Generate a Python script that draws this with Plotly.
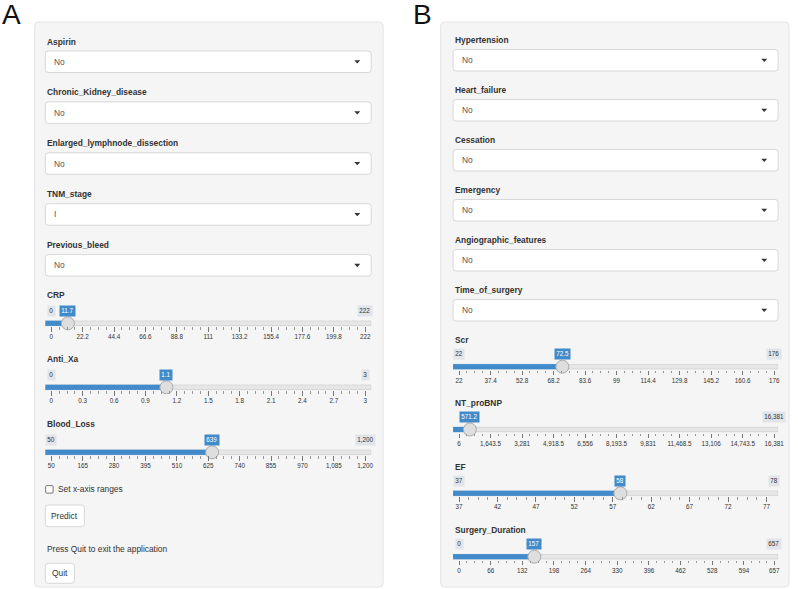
import plotly.graph_objects as go

W, H = 798, 589

# ---- values shown in the two input panels ----
left_select_names = ["Aspirin", "Chronic_Kidney_disease", "Enlarged_lymphnode_dissection",
                     "TNM_stage", "Previous_bleed"]
left_select_values = ["No", "No", "No", "I", "No"]

right_select_names = ["Hypertension", "Heart_failure", "Cessation", "Emergency",
                      "Angiographic_features", "Time_of_surgery"]
right_select_values = ["No", "No", "No", "No", "No", "No"]

left_slider_names = ["CRP", "Anti_Xa", "Blood_Loss"]
left_slider_min = [0, 0, 50]
left_slider_max = [222, 3, 1200]
left_slider_value = [11.7, 1.1, 639]
left_slider_ticks = [
    [0, 22.2, 44.4, 66.6, 88.8, 111, 133.2, 155.4, 177.6, 199.8, 222],
    [0, 0.3, 0.6, 0.9, 1.2, 1.5, 1.8, 2.1, 2.4, 2.7, 3],
    [50, 165, 280, 395, 510, 625, 740, 855, 970, 1085, 1200],
]

right_slider_names = ["Scr", "NT_proBNP", "EF", "Surgery_Duration"]
right_slider_min = [22, 6, 37, 0]
right_slider_max = [176, 16381, 78, 657]
right_slider_value = [72.5, 571.2, 58, 157]
right_slider_ticks = [
    [22, 37.4, 52.8, 68.2, 83.6, 99, 114.4, 129.8, 145.2, 160.6, 176],
    [6, 1643.5, 3281, 4918.5, 6556, 8193.5, 9831, 11468.5, 13106, 14743.5, 16381],
    [37, 42, 47, 52, 57, 62, 67, 72, 77],
    [0, 66, 132, 198, 264, 330, 396, 462, 528, 594, 657],
]

FONT = "Liberation Sans, Arial, sans-serif"
BLUE = "#428bca"
TXT = 8.4


def px(x):
    return x / W


def py(y):
    return 1 - y / H


def fmt(v):
    if float(v).is_integer():
        return f"{int(v):,}"
    return f"{v:,}"


def rrect(x0, y0, x1, y1, r, fill, line, lw=1):
    X0, X1, Y0, Y1 = px(x0), px(x1), py(y0), py(y1)
    rx, ry = r / W, r / H
    path = (f"M{X0 + rx},{Y0} L{X1 - rx},{Y0} Q{X1},{Y0} {X1},{Y0 - ry} "
            f"L{X1},{Y1 + ry} Q{X1},{Y1} {X1 - rx},{Y1} L{X0 + rx},{Y1} "
            f"Q{X0},{Y1} {X0},{Y1 + ry} L{X0},{Y0 - ry} Q{X0},{Y0} {X0 + rx},{Y0} Z")
    return dict(type="path", path=path, xref="paper", yref="paper", layer="below",
                fillcolor=fill, line=dict(color=line, width=lw))


def text(x, y, s, size=TXT, color="#333", bold=False, anchor="left"):
    if bold:
        s = f"<b>{s}</b>"
    return dict(x=px(x), y=py(y), xref="paper", yref="paper", text=s, showarrow=False,
                xanchor=anchor, yanchor="middle", font=dict(family=FONT, size=size, color=color))


shapes = []
annotations = []
traces = []
layout_axes = {}

# panels and the A / B tags
panels = [(35, 386, "A", 12), (444, 795, "B", 426)]
for x0, x1, tag, tx in panels:
    shapes.append(rrect(x0, 22, x1, 587, 4, "#f5f5f5", "#e3e3e3"))
    annotations.append(text(tx, 14, tag, size=28, color="#111", anchor="center"))


def add_selects(names, values, cx0, cx1, y_start, step):
    for i, (name, val) in enumerate(zip(names, values)):
        ly = y_start + i * step
        annotations.append(text(cx0, ly, name, bold=True))
        top, bot = ly + 9.5, ly + 31
        shapes.append(rrect(cx0, top, cx1, bot, 3, "white", "#cfcfcf", 0.8))
        mid = (top + bot) / 2
        annotations.append(text(cx0 + 7, mid, val, color="#555"))
        ax, ay = cx1 - 14, mid
        shapes.append(dict(type="path", xref="paper", yref="paper", layer="below",
                           path=f"M{px(ax - 3)},{py(ay - 1.5)} L{px(ax + 3)},{py(ay - 1.5)} "
                                f"L{px(ax)},{py(ay + 1.8)} Z",
                           fillcolor="#333", line=dict(width=0)))


add_selects(left_select_names, left_select_values, 45.7, 374, 41.5, 50.9)
add_selects(right_select_names, right_select_values, 456.5, 784, 40, 50)

axis_no = [0]


def add_sliders(names, mins, maxs, vals, ticks, tracks, label_off, d0, d1, g0, g1):
    for name, lo, hi, val, tv, ty in zip(names, mins, maxs, vals, ticks, tracks):
        axis_no[0] += 1
        k = axis_no[0]
        sfx = "" if k == 1 else str(k)
        xa, ya = "x" + sfx, "y" + sfx
        s = (hi - lo) / (g1 - g0)
        r_lo = lo - (g0 - d0) * s
        r_hi = hi + (d1 - g1) * s

        minor = []
        for a, b in zip(tv[:-1], tv[1:]):
            minor += [a + (b - a) * j / 4 for j in (1, 2, 3)]

        layout_axes["xaxis" + sfx] = dict(
            domain=[px(d0), px(d1)], range=[r_lo, r_hi], anchor=ya,
            tickmode="array", tickvals=tv, ticktext=[fmt(v) for v in tv],
            ticks="outside", ticklen=4.5, tickwidth=0.8, tickcolor="#777",
            tickfont=dict(family=FONT, size=6.3, color="#333"),
            showgrid=False, zeroline=False, showline=False, fixedrange=True,
            minor=dict(tickvals=minor, ticks="outside", ticklen=2.3, tickwidth=0.6,
                       tickcolor="#999", showgrid=False))
        layout_axes["yaxis" + sfx] = dict(
            domain=[py(ty + 3), py(ty - 3)], range=[0, 1], anchor=xa,
            visible=False, fixedrange=True)

        annotations.append(text(d0, ty - label_off, name, bold=True))

        # track and filled bar
        shapes.append(dict(type="rect", xref=xa, yref=ya, x0=r_lo, x1=r_hi, y0=0.1, y1=0.9,
                           layer="below", fillcolor="#e6e6e6", line=dict(color="#cccccc", width=0.7)))
        shapes.append(dict(type="rect", xref=xa, yref=ya, x0=r_lo, x1=val, y0=0.1, y1=0.9,
                           layer="below", fillcolor=BLUE, line=dict(color=BLUE, width=0.7)))

        traces.append(go.Scatter(x=[val], y=[0.5], xaxis=xa, yaxis=ya, mode="markers",
                                 cliponaxis=False, hoverinfo="skip", showlegend=False,
                                 marker=dict(size=13, color="#dedede",
                                             line=dict(color="#ababab", width=1))))

        # min / max / current value labels
        bubble = fmt(val)
        dist = (val - lo) / s
        show_min = dist > (len(bubble) * 3.5 / 2 + 3) + (len(fmt(lo)) * 3.5 / 2 + 2) + 2
        common = dict(xref=xa, yref=ya, y=0.5, yshift=12.8, showarrow=False,
                      xanchor="center", yanchor="middle", borderpad=1.3)
        if show_min:
            annotations.append(dict(common, x=lo, text=fmt(lo), bgcolor="#e1e4e9",
                                    font=dict(family=FONT, size=6.3, color="#333")))
        annotations.append(dict(common, x=hi, text=fmt(hi), bgcolor="#e1e4e9",
                                font=dict(family=FONT, size=6.3, color="#333")))
        annotations.append(dict(common, x=val, text=bubble, bgcolor=BLUE,
                                font=dict(family=FONT, size=6.3, color="white")))


add_sliders(left_slider_names, left_slider_min, left_slider_max, left_slider_value,
            left_slider_ticks, [323.3, 387.3, 452.3], 28, 45.7, 374, 51.7, 368)
add_sliders(right_slider_names, right_slider_min, right_slider_max, right_slider_value,
            right_slider_ticks, [366.7, 429.5, 493.3, 556.7], 26.5, 456.5, 784, 462.5, 780)

# checkbox, buttons and note in panel A
shapes.append(rrect(46, 485.6, 53.5, 493.1, 1, "white", "#555", 0.8))
annotations.append(text(56.7, 489.3, "Set x-axis ranges"))
shapes.append(rrect(45.7, 505, 85, 526.7, 3, "white", "#cfcfcf", 0.8))
annotations.append(text(65.3, 515.8, "Predict", anchor="center"))
annotations.append(text(45.7, 549.3, "Press Quit to exit the application"))
shapes.append(rrect(45.7, 563.3, 75, 583.3, 3, "white", "#cfcfcf", 0.8))
annotations.append(text(60.3, 573.3, "Quit", anchor="center"))

fig = go.Figure(data=traces)
fig.update_layout(
    width=W, height=H, margin=dict(l=0, r=0, t=0, b=0),
    paper_bgcolor="white", plot_bgcolor="rgba(0,0,0,0)",
    shapes=shapes, annotations=annotations, showlegend=False,
    **layout_axes,
)

# drop the page margin so the figure sits at the window's top-left corner
fig.write_html("out.html", config={"displayModeBar": False},
               post_script="document.body.style.margin='0';document.body.style.overflow='hidden';")
